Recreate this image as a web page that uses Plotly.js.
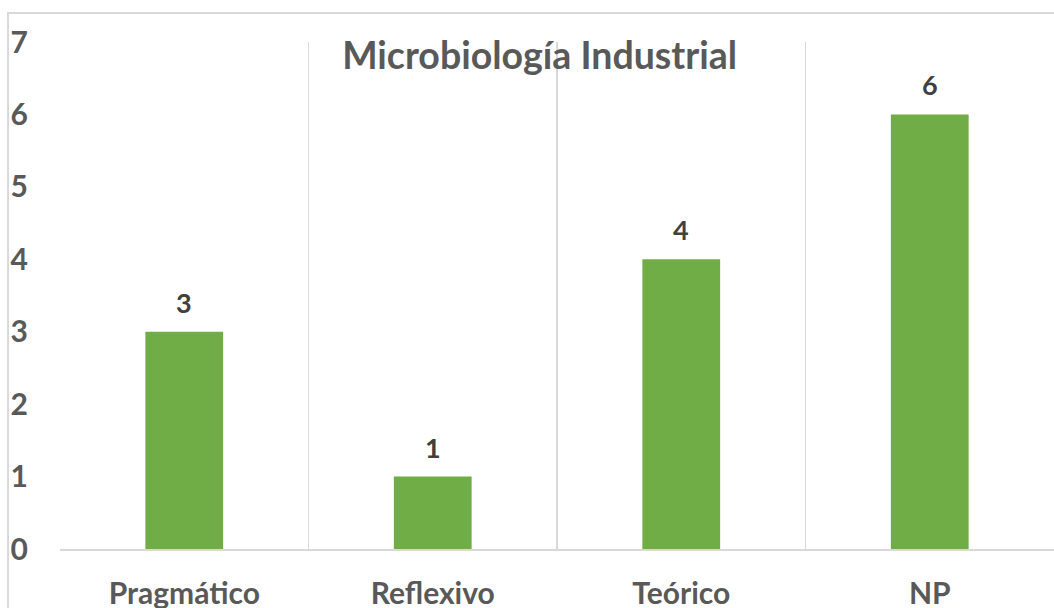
<!DOCTYPE html>
<html>
<head>
<meta charset="utf-8">
<script src="https://cdn.plot.ly/plotly-3.0.1.min.js"></script>
<style>
  html, body { margin: 0; padding: 0; background: #fff; }
  #wrap { position: relative; width: 1054px; height: 608px; overflow: hidden; }
  #chart { width: 1054px; height: 608px; }
  #frame { position: absolute; left: 7px; top: 12px; width: 1100px; height: 700px;
           border: 2px solid #d9d9d9; pointer-events: none; box-sizing: border-box; }
</style>
</head>
<body>
<div id="wrap">
  <div id="chart"></div>
  <div id="frame"></div>
</div>
<script>
const categories = ["Pragmático", "Reflexivo", "Teórico", "NP"];
const values = [3, 1, 4, 6];
const yTicks = [0, 1, 2, 3, 4, 5, 6, 7];
const chartTitle = "Microbiología Industrial";

const FONT = "Lato, 'Open Sans', sans-serif";
const axisColor = "#595959";

const trace = {
  type: "bar",
  x: categories,
  y: values,
  marker: { color: "#70AD47" },
  width: 0.313,
  hoverinfo: "none"
};

const annotations = categories.map((c, i) => ({
  x: c,
  y: values[i],
  xref: "x",
  yref: "y",
  text: "<b>" + values[i] + "</b>",
  showarrow: false,
  yanchor: "bottom",
  yshift: 11,
  font: { family: FONT, size: 27, color: "#404040" }
}));

const layout = {
  width: 1054,
  height: 608,
  margin: { l: 60, r: 0, t: 42, b: 59 },
  paper_bgcolor: "rgba(0,0,0,0)",
  plot_bgcolor: "rgba(0,0,0,0)",
  showlegend: false,
  title: {
    text: "<b>" + chartTitle + "</b>",
    font: { family: FONT, size: 37.5, color: axisColor },
    x: 0.512,
    xanchor: "center",
    y: 0.908,
    yanchor: "middle"
  },
  xaxis: {
    type: "category",
    range: [-0.5, 3.5],
    tickson: "boundaries",
    showgrid: true,
    gridcolor: "#d9d9d9",
    gridwidth: 1.5,
    showline: true,
    linecolor: "#d9d9d9",
    linewidth: 1.5,
    ticks: "",
    ticklabelstandoff: 17,
    tickfont: { family: FONT, size: 30, color: axisColor, weight: "bold" },
    zeroline: false,
    fixedrange: true
  },
  yaxis: {
    range: [0, 7],
    tickvals: yTicks,
    ticktext: yTicks.map(String),
    showgrid: false,
    zeroline: false,
    showline: false,
    ticks: "",
    ticklabelstandoff: 31,
    tickfont: { family: FONT, size: 30, color: axisColor, weight: "bold" },
    fixedrange: true
  },
  annotations: annotations
};

Plotly.newPlot("chart", [trace], layout, { displayModeBar: false, staticPlot: true });
</script>
</body>
</html>
